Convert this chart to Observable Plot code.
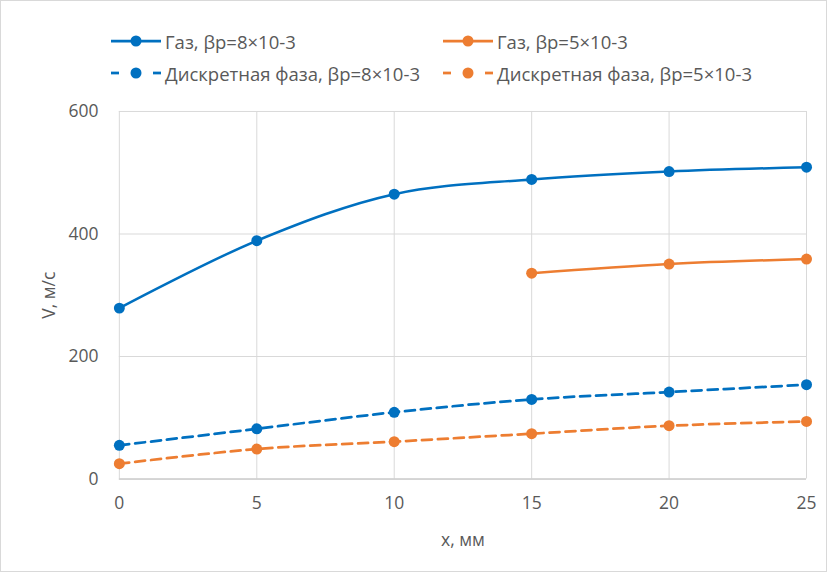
<!DOCTYPE html>
<html><head><meta charset="utf-8">
<script src="https://cdn.jsdelivr.net/npm/d3@7"></script>
<script src="https://cdn.jsdelivr.net/npm/@observablehq/plot@0.6"></script>
<style>
html,body{margin:0;padding:0;background:#fff;}
#wrap{position:relative;width:827px;height:572px;box-sizing:border-box;border:1px solid #d9d9d9;overflow:hidden;font-family:"Open Sans",sans-serif;color:#595959;}
#legend{position:absolute;left:0;top:0;width:827px;height:95px;}
.item{position:absolute;display:flex;align-items:center;font-size:18.5px;white-space:nowrap;}
.item svg{margin-right:3px;}
#chart{position:absolute;left:-1px;top:94px;}
</style></head>
<body><div id="wrap"><div id="legend"></div><div id="chart"></div></div>
<script>
const xs = [0, 5, 10, 15, 20, 25];
const gas8 = [279, 389, 465, 489, 502, 509];
const xsGas5 = [15, 20, 25];
const gas5 = [336, 351, 359];
const disc8 = [55, 82, 109, 130, 142, 154];
const disc5 = [25, 49, 61, 74, 87, 94];
const yTicks = [0, 200, 400, 600];
const xTicks = [0, 5, 10, 15, 20, 25];
const names = ["Газ, βр=8×10-3", "Газ, βр=5×10-3", "Дискретная фаза, βр=8×10-3", "Дискретная фаза, βр=5×10-3"];
const BLUE = "#0070C0", ORANGE = "#ED7D31";

const s1 = xs.map((x, i) => ({x, y: gas8[i]}));
const s2 = xsGas5.map((x, i) => ({x, y: gas5[i]}));
const s3 = xs.map((x, i) => ({x, y: disc8[i]}));
const s4 = xs.map((x, i) => ({x, y: disc5[i]}));

const chart = Plot.plot({
  width: 827, height: 478,
  marginLeft: 119, marginRight: 20, marginTop: 16, marginBottom: 94,
  style: {fontFamily: "'Open Sans', sans-serif", fontSize: "17.5px", color: "#595959", background: "transparent"},
  x: {domain: [0, 25]},
  y: {domain: [0, 600]},
  marks: [
    Plot.gridY(yTicks, {stroke: "#d9d9d9", strokeOpacity: 1}),
    Plot.gridX(xTicks, {stroke: "#d9d9d9", strokeOpacity: 1}),
    Plot.ruleY([0], {stroke: "#bfbfbf"}),
    Plot.axisY(yTicks, {tickSize: 0, tickPadding: 21, label: "V, м/с", labelArrow: false, labelAnchor: "center", labelOffset: 77, fontSize: 17.5}),
    Plot.axisX(xTicks, {tickSize: 0, tickPadding: 18, label: "x, мм", labelArrow: false, labelAnchor: "center", labelOffset: 67, fontSize: 17.5}),
    Plot.line(s1, {x: "x", y: "y", stroke: BLUE, strokeWidth: 2.5, curve: "catmull-rom"}),
    Plot.line(s2, {x: "x", y: "y", stroke: ORANGE, strokeWidth: 2.5, curve: "catmull-rom"}),
    Plot.line(s3, {x: "x", y: "y", stroke: BLUE, strokeWidth: 2.75, strokeDasharray: "10,6", curve: "catmull-rom"}),
    Plot.line(s4, {x: "x", y: "y", stroke: ORANGE, strokeWidth: 2.75, strokeDasharray: "10,6", curve: "catmull-rom"}),
    Plot.dot(s1, {x: "x", y: "y", r: 5.5, fill: BLUE}),
    Plot.dot(s2, {x: "x", y: "y", r: 5.5, fill: ORANGE}),
    Plot.dot(s3, {x: "x", y: "y", r: 5.5, fill: BLUE}),
    Plot.dot(s4, {x: "x", y: "y", r: 5.5, fill: ORANGE})
  ]
});
document.getElementById("chart").appendChild(chart);

const legend = document.getElementById("legend");
const entries = [
  {name: names[0], color: BLUE, dash: false, left: 109, top: 40},
  {name: names[1], color: ORANGE, dash: false, left: 441, top: 40},
  {name: names[2], color: BLUE, dash: true, left: 109, top: 72},
  {name: names[3], color: ORANGE, dash: true, left: 441, top: 72}
];
for (const e of entries) {
  const d = document.createElement("div");
  d.className = "item";
  d.style.left = e.left + "px";
  d.style.top = (e.top - 12) + "px";
  d.style.height = "24px";
  const line = e.dash
    ? `<line x1="1" y1="12" x2="9" y2="12" stroke="${e.color}" stroke-width="2.75"/><line x1="43" y1="12" x2="51" y2="12" stroke="${e.color}" stroke-width="2.75"/>`
    : `<line x1="1" y1="12" x2="51" y2="12" stroke="${e.color}" stroke-width="2.75"/>`;
  d.innerHTML = `<svg width="52" height="24">${line}<circle cx="26" cy="12" r="5.5" fill="${e.color}"/></svg><span>${e.name}</span>`;
  legend.appendChild(d);
}
</script></body></html>
